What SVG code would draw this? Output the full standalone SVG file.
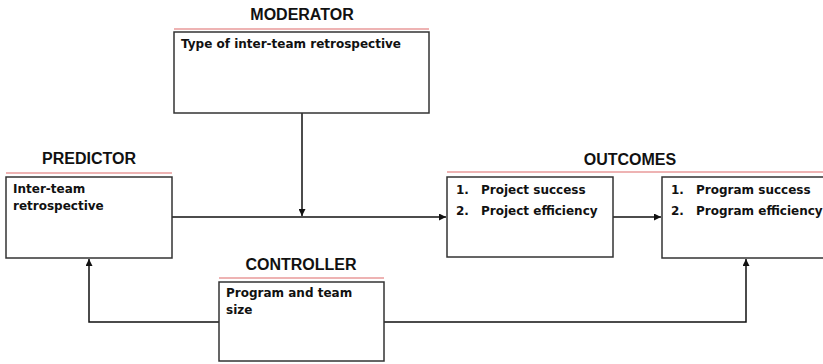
<svg xmlns="http://www.w3.org/2000/svg" width="823" height="364" viewBox="0 0 823 364">
<defs>
<marker id="arr" viewBox="0 0 10 10" refX="10" refY="5" markerWidth="7" markerHeight="7" orient="auto" markerUnits="userSpaceOnUse">
<path d="M0,0 L10,5 L0,10 z" fill="#111"/>
</marker>
<style>
.box{fill:#fff;stroke:#333;stroke-width:1.5}
.rule{stroke:#e89a9a;stroke-width:1.5}
.title{font-family:"Liberation Sans",Arial,sans-serif;font-weight:bold;font-size:16px;fill:#111;text-anchor:middle}
.t{font-family:"DejaVu Sans",sans-serif;font-weight:bold;font-size:12px;fill:#111}
.c{fill:none;stroke:#111;stroke-width:1.5}
</style>
</defs>
<rect width="823" height="364" fill="#fff"/>
<g id="connectors">
<line class="c" x1="172" y1="217" x2="446" y2="217" marker-end="url(#arr)"/>
<line class="c" x1="302" y1="113" x2="302" y2="216" marker-end="url(#arr)"/>
<line class="c" x1="613" y1="217" x2="661" y2="217" marker-end="url(#arr)"/>
<polyline class="c" points="219,322 89,322 89,259" marker-end="url(#arr)"/>
<polyline class="c" points="384,322 746,322 746,259" marker-end="url(#arr)"/>
</g>
<g id="moderator">
<text class="title" x="302" y="20">MODERATOR</text>
<line class="rule" x1="174" y1="29" x2="429" y2="29"/>
<rect class="box" x="174" y="32" width="255" height="81"/>
<text class="t" x="181" y="48">Type of inter-team retrospective</text>
</g>
<g id="predictor">
<text class="title" x="89" y="164">PREDICTOR</text>
<line class="rule" x1="6" y1="173" x2="172" y2="173"/>
<rect class="box" x="6" y="177" width="166" height="81"/>
<text class="t" x="13" y="193">Inter-team</text>
<text class="t" x="13" y="210">retrospective</text>
</g>
<g id="outcomes">
<text class="title" x="630" y="165">OUTCOMES</text>
<line class="rule" x1="447" y1="172" x2="823" y2="172"/>
</g>
<g id="outcome-project">
<rect class="box" x="447" y="177" width="166" height="80"/>
<text class="t" x="456" y="194">1.</text>
<text class="t" x="481" y="194">Project success</text>
<text class="t" x="456" y="215">2.</text>
<text class="t" x="481" y="215">Project efficiency</text>
</g>
<g id="outcome-program">
<rect class="box" x="662" y="177" width="170" height="81"/>
<text class="t" x="671" y="194">1.</text>
<text class="t" x="696" y="194">Program success</text>
<text class="t" x="671" y="215">2.</text>
<text class="t" x="696" y="215">Program efficiency</text>
</g>
<g id="controller">
<text class="title" x="301" y="270">CONTROLLER</text>
<line class="rule" x1="219" y1="278" x2="384" y2="278"/>
<rect class="box" x="219" y="282" width="165" height="79"/>
<text class="t" x="226" y="297">Program and team</text>
<text class="t" x="226" y="314">size</text>
</g>
</svg>
